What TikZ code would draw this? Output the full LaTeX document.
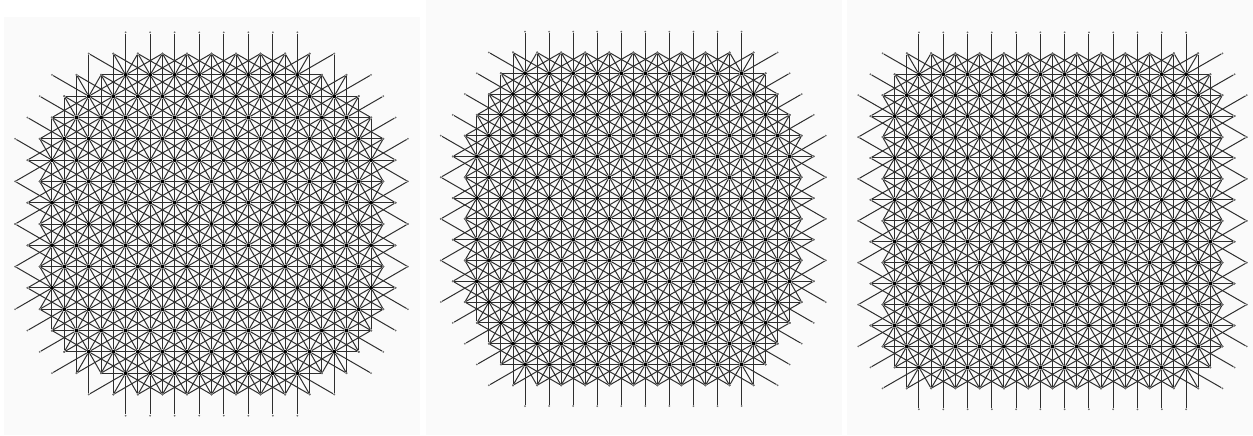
\documentclass[tikz,border=0pt]{standalone}
\usepackage{xcolor}
\definecolor{panelbg}{HTML}{FAFAFA}
\definecolor{meshink}{HTML}{2E2E2E}
\tikzset{
  hubdot/.style={circle,fill=black,inner sep=0pt,minimum size=2pt},
  pindot/.style={circle,fill=meshink!70,inner sep=0pt,minimum size=1pt},
  meshline/.style={meshink,line width=.5pt}
}
% #1 name, #2 #3 centre, #4 half spacing, #5 row spacing, #6 half widths of the rows
\newcommand{\meshpanel}[6]{
  \begin{scope}[shift={(#2,#3)},x=#4pt,y=-#5pt]
    \foreach \row in {0,...,14}{
      \pgfmathtruncatemacro\ext{{#6}[\row+2]}
      \pgfmathtruncatemacro\first{-\ext}
      \pgfmathtruncatemacro\second{2-\ext}
      \foreach \col in {\first,\second,...,\ext}
        \node[hubdot] (#1-\col-\row) at (\col,\row-7) {};
    }
    \foreach \row in {0,...,14}{
      \pgfmathtruncatemacro\ext{{#6}[\row+2]}
      \pgfmathtruncatemacro\first{-\ext}
      \pgfmathtruncatemacro\second{2-\ext}
      \foreach \col in {\first,\second,...,\ext}{
        \foreach \dc/\dr/\fw in {2/0/1,1/1/1,-1/1/1,3/1/1,-3/1/1,0/2/1,-2/0/0,1/-1/0,-1/-1/0,3/-1/0,-3/-1/0,0/-2/0}{
          \pgfmathtruncatemacro\ncol{\col+\dc}
          \pgfmathtruncatemacro\nrow{\row+\dr}
          \pgfmathtruncatemacro\nabs{abs(\ncol)}
          \pgfmathtruncatemacro\next{{#6}[\nrow+2]}
          \ifnum\nabs>\next
            \node[pindot] (#1-\ncol-\nrow) at (\ncol,\nrow-7) {};
            \draw[meshline] (#1-\col-\row) -- (#1-\ncol-\nrow);
          \else
            \ifnum\fw=1
              \draw[meshline] (#1-\col-\row) -- (#1-\ncol-\nrow);
            \fi
          \fi
        }
      }
    }
  \end{scope}
}
\begin{document}
\begin{tikzpicture}[x=.5pt,y=-.5pt]
  \useasboundingbox (0,0) rectangle (1253,435);
  \fill[panelbg] (4,17) rectangle (420,435);
  \fill[panelbg] (426,0) rectangle (841.5,435);
  \fill[panelbg] (847,0) rectangle (1253,435);
  \meshpanel{a}{211.5}{224}{6.135}{10.65}{-1,-1,7,10,11,12,13,12,13,12,13,12,13,12,11,10,7,-1,-1}
  \meshpanel{b}{633.3}{218.85}{6.015}{10.4}{-1,-1,9,10,11,12,13,12,13,12,13,12,13,12,11,10,9,-1,-1}
  \meshpanel{c}{1052.5}{220.8}{6.07}{10.47}{-1,-1,11,12,13,12,13,12,13,12,13,12,13,12,13,12,11,-1,-1}
\end{tikzpicture}
\end{document}
